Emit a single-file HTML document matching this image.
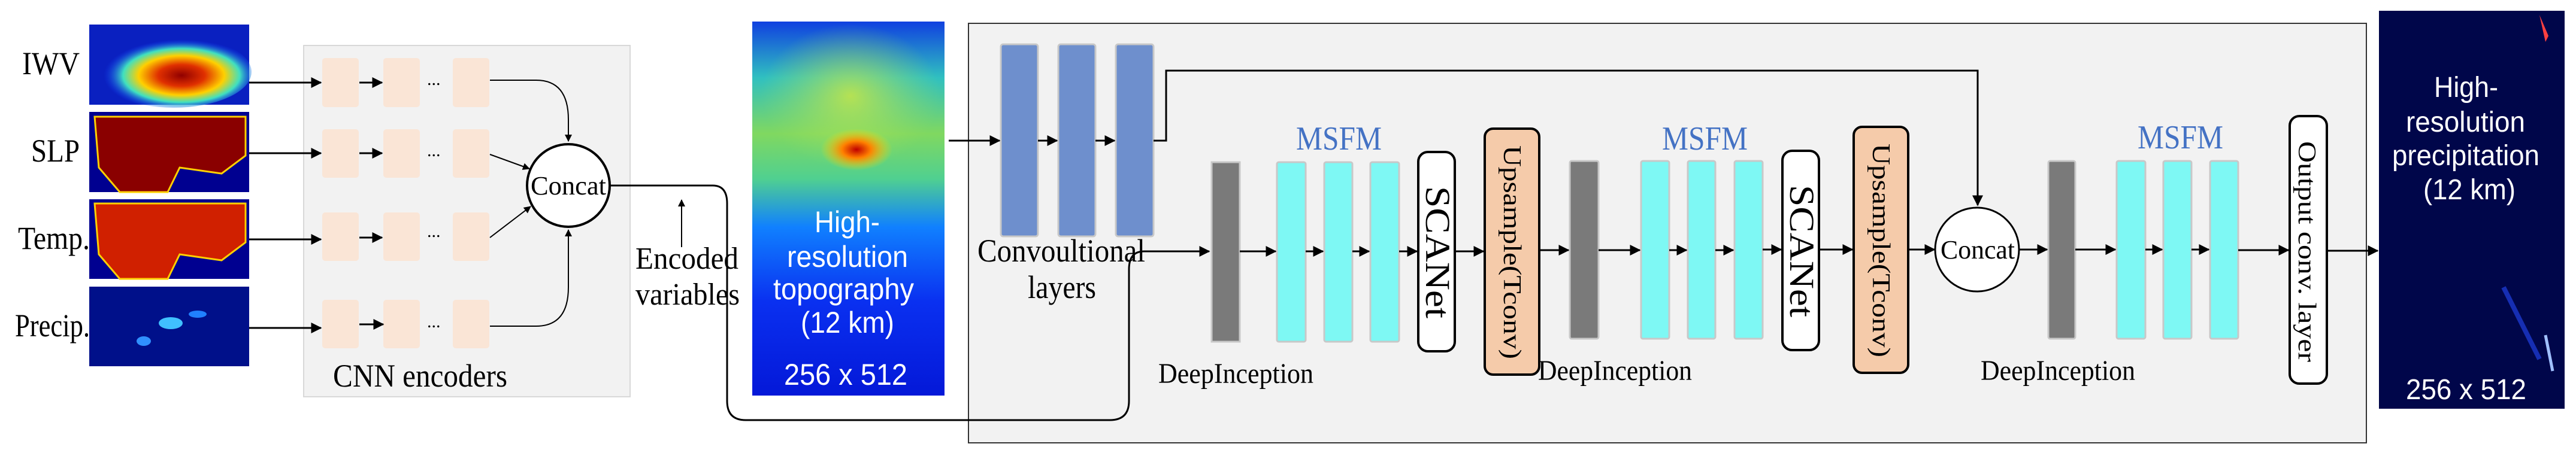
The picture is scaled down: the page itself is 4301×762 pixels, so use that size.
<!DOCTYPE html>
<html><head><meta charset="utf-8"><style>
html,body{margin:0;padding:0;background:#fff;}
svg{display:block;}
.t{font-family:"Liberation Serif",serif;fill:#000;}
.a{font-family:"Liberation Sans",sans-serif;fill:#fff;}
</style></head><body>
<svg width="4301" height="762" viewBox="0 0 4301 762" xmlns="http://www.w3.org/2000/svg">
<defs>
<marker id="ah" markerWidth="6" markerHeight="6" refX="5.5" refY="3" orient="auto" markerUnits="strokeWidth">
<path d="M0,0 L6,3 L0,6 z" fill="#000"/></marker>
<radialGradient id="iwv" cx="0.55" cy="0.55" r="0.5"><stop offset="0" stop-color="#900000"/><stop offset="0.3" stop-color="#e03000"/><stop offset="0.55" stop-color="#ffd000"/><stop offset="0.75" stop-color="#40e0c0"/><stop offset="1" stop-color="#1040ff" stop-opacity="0"/></radialGradient>
<linearGradient id="topo" x1="0" y1="0" x2="0" y2="1"><stop offset="0" stop-color="#1040e0"/><stop offset="0.15" stop-color="#30c0c0"/><stop offset="0.3" stop-color="#80d860"/><stop offset="0.42" stop-color="#50d090"/><stop offset="0.55" stop-color="#1080ff"/><stop offset="0.75" stop-color="#0a30f0"/><stop offset="1" stop-color="#0418d8"/></linearGradient>
<radialGradient id="green" cx="0.5" cy="0.5" r="0.5"><stop offset="0" stop-color="#d0e840" stop-opacity="0.8"/><stop offset="1" stop-color="#a0e060" stop-opacity="0"/></radialGradient>
<radialGradient id="hot" cx="0.5" cy="0.5" r="0.5"><stop offset="0" stop-color="#c00000"/><stop offset="0.4" stop-color="#ff8000"/><stop offset="1" stop-color="#ffe000" stop-opacity="0"/></radialGradient>
</defs>

<rect x="149" y="41" width="267" height="134" fill="#0a20c0"/>
<ellipse cx="290" cy="120" rx="130" ry="60" fill="url(#iwv)"/>
<rect x="149" y="187" width="267" height="134" fill="#000090"/>
<path d="M158,195 L410,195 L410,260 L370,290 L300,280 L280,321 L200,321 L165,280 Z" fill="#8a0000" stroke="#ffd000" stroke-width="3"/>
<rect x="149" y="333" width="267" height="133" fill="#000090"/>
<path d="M158,340 L410,340 L410,405 L370,435 L300,425 L280,466 L200,466 L165,425 Z" fill="#d02000" stroke="#ffd000" stroke-width="3"/>
<rect x="149" y="479" width="267" height="133" fill="#00108a"/>
<ellipse cx="285" cy="540" rx="20" ry="10" fill="#40c0ff"/><ellipse cx="240" cy="570" rx="12" ry="8" fill="#3090ff"/><ellipse cx="330" cy="525" rx="15" ry="6" fill="#2080ff"/>

<g class="t" font-size="54">
<text x="37" y="124" textLength="96" lengthAdjust="spacingAndGlyphs">IWV</text>
<text x="52" y="270" textLength="81" lengthAdjust="spacingAndGlyphs">SLP</text>
<text x="30" y="416" textLength="120" lengthAdjust="spacingAndGlyphs">Temp.</text>
<text x="25" y="562" textLength="125" lengthAdjust="spacingAndGlyphs">Precip.</text>
</g>

<rect x="507" y="76" width="545" height="587" fill="#f2f2f2" stroke="#d8d8d8" stroke-width="2"/>
<g fill="#fae5d6">
<rect x="538" y="97" width="61" height="82" rx="5"/><rect x="640" y="97" width="61" height="82" rx="5"/><rect x="756" y="97" width="61" height="82" rx="5"/>
<rect x="538" y="216" width="61" height="81" rx="5"/><rect x="640" y="216" width="61" height="81" rx="5"/><rect x="756" y="216" width="61" height="81" rx="5"/>
<rect x="538" y="355" width="61" height="81" rx="5"/><rect x="640" y="355" width="61" height="81" rx="5"/><rect x="756" y="355" width="61" height="81" rx="5"/>
<rect x="538" y="501" width="61" height="81" rx="5"/><rect x="640" y="501" width="61" height="81" rx="5"/><rect x="756" y="501" width="61" height="81" rx="5"/>
</g>
<g stroke="#000" stroke-width="3" fill="none" marker-end="url(#ah)">
<line x1="416" y1="138" x2="536" y2="138"/><line x1="600" y1="138" x2="638" y2="138"/>
<line x1="416" y1="256" x2="536" y2="256"/><line x1="600" y1="256" x2="638" y2="256"/>
<line x1="416" y1="400" x2="536" y2="400"/><line x1="600" y1="397" x2="638" y2="397"/>
<line x1="416" y1="548" x2="536" y2="548"/><line x1="600" y1="542" x2="640" y2="542"/>
</g>
<g class="t" font-size="30"><text x="713" y="142">...</text><text x="713" y="261">...</text><text x="713" y="396">...</text><text x="713" y="547">...</text></g>
<g stroke="#000" stroke-width="2" fill="none" marker-end="url(#ah)">
<path d="M818,134 L895,134 Q949,134 949,200 L949,236"/>
<line x1="818" y1="258" x2="884" y2="282"/>
<line x1="818" y1="397" x2="886" y2="345"/>
<path d="M818,545 L895,545 Q949,545 949,480 L949,384"/>
</g>
<circle cx="949" cy="310" r="69" fill="#fff" stroke="#000" stroke-width="4"/>
<text class="t" x="886" y="325" font-size="44" textLength="126" lengthAdjust="spacingAndGlyphs">Concat</text>
<text class="t" x="556" y="646" font-size="54" textLength="291" lengthAdjust="spacingAndGlyphs">CNN encoders</text>

<text class="t" x="1061" y="449" font-size="52" textLength="172" lengthAdjust="spacingAndGlyphs">Encoded</text>
<text class="t" x="1061" y="509" font-size="52" textLength="174" lengthAdjust="spacingAndGlyphs">variables</text>
<line x1="1138" y1="413" x2="1138" y2="334" stroke="#000" stroke-width="2" marker-end="url(#ah)"/>

<rect x="1617" y="39" width="2334" height="701" fill="#f2f2f2" stroke="#333" stroke-width="2"/>

<rect x="1256" y="36" width="321" height="625" fill="url(#topo)"/>
<ellipse cx="1420" cy="160" rx="150" ry="120" fill="url(#green)"/>
<ellipse cx="1430" cy="250" rx="60" ry="35" fill="url(#hot)"/>
<g class="a" font-size="50">
<text x="1360" y="388" textLength="109" lengthAdjust="spacingAndGlyphs">High-</text>
<text x="1314" y="446" textLength="202" lengthAdjust="spacingAndGlyphs">resolution</text>
<text x="1291" y="500" textLength="235" lengthAdjust="spacingAndGlyphs">topography</text>
<text x="1337" y="556" textLength="156" lengthAdjust="spacingAndGlyphs">(12 km)</text>
<text x="1309" y="643" textLength="206" lengthAdjust="spacingAndGlyphs">256 x 512</text>
</g>

<path d="M1018,310 L1190,310 Q1214,310 1214,340 L1214,670 Q1214,702 1245,702 L1853,702 Q1885,702 1885,670 L1885,450 Q1885,420 1910,420 L2019,420" stroke="#000" stroke-width="3" fill="none" marker-end="url(#ah)"/>

<g fill="#6e8fcd" stroke="#c8c8c8" stroke-width="3">
<rect x="1671" y="74" width="62" height="321" rx="4"/><rect x="1767" y="74" width="62" height="321" rx="4"/><rect x="1863" y="74" width="63" height="321" rx="4"/>
</g>
<g stroke="#000" stroke-width="3" fill="none" marker-end="url(#ah)">
<line x1="1584" y1="235" x2="1669" y2="235"/><line x1="1733" y1="235" x2="1765" y2="235"/><line x1="1829" y1="235" x2="1861" y2="235"/>
<path d="M1926,235 L1947,235 L1947,118 L3302,118 L3302,343"/>
</g>
<text class="t" x="1632" y="437" font-size="54" textLength="280" lengthAdjust="spacingAndGlyphs">Convoultional</text>
<text class="t" x="1716" y="498" font-size="54" textLength="114" lengthAdjust="spacingAndGlyphs">layers</text>

<g stroke="#c8c8c8" stroke-width="3">
<rect x="2023" y="271" width="47" height="300" fill="#7a7a7a"/>
<rect x="2132" y="271" width="48" height="300" fill="#7ef8f4" rx="3"/><rect x="2211" y="271" width="47" height="300" fill="#7ef8f4" rx="3"/><rect x="2288" y="271" width="48" height="300" fill="#7ef8f4" rx="3"/>
<rect x="2621" y="269" width="48" height="297" fill="#7a7a7a" rx="3"/>
<rect x="2740" y="269" width="47" height="297" fill="#7ef8f4" rx="3"/><rect x="2818" y="269" width="46" height="297" fill="#7ef8f4" rx="3"/><rect x="2896" y="269" width="47" height="297" fill="#7ef8f4" rx="3"/>
<rect x="3420" y="269" width="45" height="297" fill="#7a7a7a" rx="3"/>
<rect x="3534" y="269" width="48" height="297" fill="#7ef8f4" rx="3"/><rect x="3612" y="269" width="47" height="297" fill="#7ef8f4" rx="3"/><rect x="3690" y="269" width="47" height="297" fill="#7ef8f4" rx="3"/>
</g>
<g fill="#fff" stroke="#000" stroke-width="4">
<rect x="2368" y="254" width="61" height="333" rx="16"/>
<rect x="2976" y="252" width="61" height="333" rx="16"/>
<rect x="3823" y="194" width="62" height="447" rx="16"/>
</g>
<g fill="#f5cbaa" stroke="#000" stroke-width="4">
<rect x="2479" y="215" width="91" height="411" rx="14"/>
<rect x="3095" y="212" width="91" height="411" rx="14"/>
</g>
<g class="t">
<text transform="translate(2381,311) rotate(90)" font-size="58" textLength="221" lengthAdjust="spacingAndGlyphs">SCANet</text>
<text transform="translate(2989,309) rotate(90)" font-size="58" textLength="221" lengthAdjust="spacingAndGlyphs">SCANet</text>
<text transform="translate(2511,243) rotate(90)" font-size="42" textLength="357" lengthAdjust="spacingAndGlyphs">Upsample(Tconv)</text>
<text transform="translate(3127,240) rotate(90)" font-size="42" textLength="357" lengthAdjust="spacingAndGlyphs">Upsample(Tconv)</text>
<text transform="translate(3838,236) rotate(90)" font-size="42" textLength="369" lengthAdjust="spacingAndGlyphs">Output conv. layer</text>
</g>
<g font-family="Liberation Serif,serif" fill="#4472c4" font-size="56">
<text x="2164" y="250" textLength="143" lengthAdjust="spacingAndGlyphs">MSFM</text>
<text x="2775" y="250" textLength="143" lengthAdjust="spacingAndGlyphs">MSFM</text>
<text x="3569" y="248" textLength="143" lengthAdjust="spacingAndGlyphs">MSFM</text>
</g>
<g class="t" font-size="48">
<text x="1934" y="640" textLength="259" lengthAdjust="spacingAndGlyphs">DeepInception</text>
<text x="2568" y="635" textLength="257" lengthAdjust="spacingAndGlyphs">DeepInception</text>
<text x="3307" y="635" textLength="258" lengthAdjust="spacingAndGlyphs">DeepInception</text>
</g>

<circle cx="3301" cy="417" r="70" fill="#fff" stroke="#000" stroke-width="3"/>
<text class="t" x="3240" y="432" font-size="44" textLength="124" lengthAdjust="spacingAndGlyphs">Concat</text>

<g stroke="#000" stroke-width="3" fill="none" marker-end="url(#ah)">
<line x1="2070" y1="420" x2="2130" y2="420"/><line x1="2180" y1="420" x2="2209" y2="420"/><line x1="2258" y1="420" x2="2286" y2="420"/><line x1="2336" y1="420" x2="2366" y2="420"/>
<line x1="2429" y1="420" x2="2477" y2="420"/><line x1="2570" y1="418" x2="2619" y2="418"/><line x1="2669" y1="418" x2="2738" y2="418"/><line x1="2787" y1="418" x2="2816" y2="418"/><line x1="2864" y1="418" x2="2894" y2="418"/>
<line x1="2943" y1="417" x2="2974" y2="417"/><line x1="3037" y1="417" x2="3093" y2="417"/><line x1="3186" y1="417" x2="3230" y2="417"/>
<line x1="3371" y1="417" x2="3418" y2="417"/><line x1="3465" y1="417" x2="3532" y2="417"/><line x1="3582" y1="417" x2="3610" y2="417"/><line x1="3659" y1="417" x2="3688" y2="417"/>
<line x1="3737" y1="418" x2="3821" y2="418"/><line x1="3885" y1="419" x2="3970" y2="419"/>
</g>

<rect x="3972" y="18" width="310" height="665" fill="#00064a"/>
<path d="M4240,25 L4255,60 L4250,70 Z" fill="#ff4040"/>
<path d="M4180,480 L4230,580 L4240,600" stroke="#2040e0" stroke-width="8" fill="none" opacity="0.7"/>
<path d="M4250,560 L4262,620" stroke="#a0c0ff" stroke-width="5" fill="none"/>
<g class="a" font-size="48">
<text x="4064" y="162" textLength="107" lengthAdjust="spacingAndGlyphs">High-</text>
<text x="4017" y="220" textLength="199" lengthAdjust="spacingAndGlyphs">resolution</text>
<text x="3994" y="276" textLength="246" lengthAdjust="spacingAndGlyphs">precipitation</text>
<text x="4046" y="333" textLength="154" lengthAdjust="spacingAndGlyphs">(12 km)</text>
<text x="4017" y="667" textLength="201" lengthAdjust="spacingAndGlyphs">256 x 512</text>
</g>
</svg>
</body></html>
